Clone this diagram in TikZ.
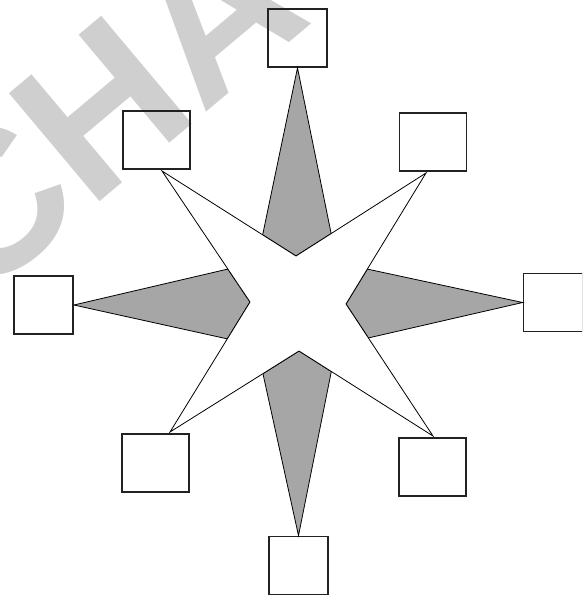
\documentclass[tikz,border=0pt]{standalone}
\usepackage{fontspec}
\setmainfont{Liberation Sans}
\definecolor{boxc}{HTML}{222222}
\definecolor{spikec}{HTML}{A6A6A6}
\definecolor{wmc}{HTML}{CFCFCF}
\begin{document}
\begin{tikzpicture}[x=1pt,y=-1pt,
  sq/.style={draw=boxc, line width=1.7pt, minimum width=59pt, minimum height=58pt, inner sep=0pt},
  wide/.style={sq, minimum width=67pt},
  spike/.style={fill=spikec, draw=black, line width=0.8pt, line join=miter},
  starshape/.style={fill=white, draw=black, line width=0.8pt, line join=miter},
  wmark/.style={text=wmc, inner sep=0pt, font=\fontsize{205}{205}\selectfont\bfseries}]
\useasboundingbox (0,0) rectangle (582,596);
\clip (0,0) rectangle (582,596);
% watermark
\node[wmark, rotate=40, anchor=base west] (wm) at (-24,306) {CHA};
% boxes
\node[sq] (t) at (297.5,38) {};
\node[wide] (tl) at (156.5,140) {};
\node[wide] (tr) at (433,142) {};
\node[sq] (l) at (43.5,305) {};
\node[sq] (r) at (553,302.5) {};
\node[wide] (bl) at (155.5,463) {};
\node[wide] (br) at (432.5,467) {};
\node[sq] (b) at (298.5,565.5) {};
% star points
\coordinate (ptl) at (162,171);
\coordinate (ptr) at (426,173);
\coordinate (pbr) at (433,436);
\coordinate (pbl) at (170,432);
\coordinate (it) at (296,256);
\coordinate (ir) at (346,304);
\coordinate (ib) at (299,351);
\coordinate (il) at (250,302);
% spike directions
\coordinate (dt1) at (263,233);
\coordinate (dt2) at (331,233);
\coordinate (dl1) at (228,269);
\coordinate (dl2) at (228,339);
\coordinate (dr1) at (367,269);
\coordinate (dr2) at (368,338);
\coordinate (db1) at (263,374);
\coordinate (db2) at (331,373);
% gray spikes
\filldraw[spike] (t.south) -- (intersection of t.south--dt1 and ptl--it) -- (it)
  -- (intersection of t.south--dt2 and it--ptr) -- cycle;
\filldraw[spike] (l.east) -- (intersection of l.east--dl1 and ptl--il) -- (il)
  -- (intersection of l.east--dl2 and il--pbl) -- cycle;
\filldraw[spike] (r.west) -- (intersection of r.west--dr1 and ptr--ir) -- (ir)
  -- (intersection of r.west--dr2 and ir--pbr) -- cycle;
\filldraw[spike] (b.north) -- (intersection of b.north--db1 and pbl--ib) -- (ib)
  -- (intersection of b.north--db2 and ib--pbr) -- cycle;
% white star
\filldraw[starshape] (ptl) -- (it) -- (ptr) -- (ir) -- (pbr) -- (ib) -- (pbl) -- (il) -- cycle;
\end{tikzpicture}
\end{document}
